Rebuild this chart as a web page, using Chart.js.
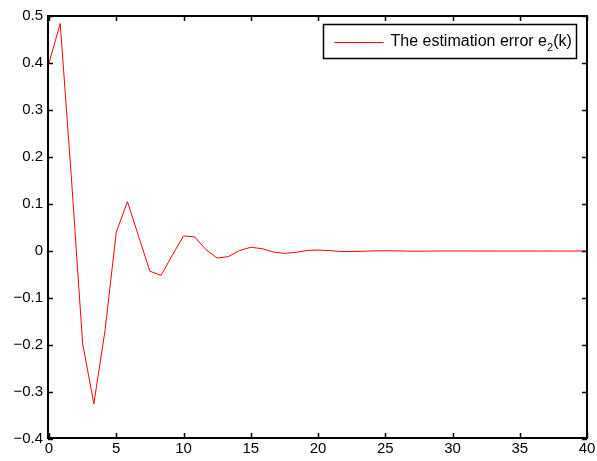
<!DOCTYPE html>
<html>
<head>
<meta charset="utf-8">
<script src="https://cdn.jsdelivr.net/npm/chart.js@4.4.0/dist/chart.umd.min.js"></script>
<style>
  html, body { margin: 0; padding: 0; background: #fff; }
</style>
</head>
<body>
<canvas id="chart" width="597" height="461"></canvas>
<script>
// sample instants k*T (T = 5/6)
const sampleTimes = [
  0, 0.833, 1.667, 2.5, 3.333, 4.167, 5, 5.833, 6.667, 7.5,
  8.333, 9.167, 10, 10.833, 11.667, 12.5, 13.333, 14.167, 15, 15.833,
  16.667, 17.5, 18.333, 19.167, 20, 20.833, 21.667, 22.5, 23.333, 24.167,
  25, 25.833, 26.667, 27.5, 28.333, 29.167, 30, 30.833, 31.667, 32.5,
  33.333, 34.167, 35, 35.833, 36.667, 37.5, 38.333, 39.167, 40
];
// estimation error e2(k)
const errorValues = [
  0.400, 0.484, 0.155, -0.197, -0.325, -0.169, 0.040, 0.105, 0.031, -0.043,
  -0.052, -0.009, 0.032, 0.030, 0.003, -0.015, -0.012, 0.001, 0.008, 0.005,
  -0.002, -0.005, -0.003, 0.001, 0.002, 0.001, -0.001, -0.001, -0.0005, 0.0003,
  0.0006, 0.0003, -0.0002, -0.0003, -0.0001, 0.0001, 0.0001, 0.0001, 0, 0,
  0, 0, 0, 0, 0, 0, 0, 0, 0
];
const xTicks = [0, 5, 10, 15, 20, 25, 30, 35, 40];
const yTicks = [-0.4, -0.3, -0.2, -0.1, 0, 0.1, 0.2, 0.3, 0.4, 0.5];
const seriesLabel = "The estimation error e";
const seriesSub = "2";
const seriesTail = "(k)";

const FONT = "Liberation Sans, Arial, Helvetica, sans-serif";

// MATLAB-like box with inward ticks + legend
const boxPlugin = {
  id: "box",
  afterDatasetsDraw(chart) {
    const { ctx, chartArea: a, scales } = chart;
    const x = scales.x, y = scales.y;
    const L = Math.round(a.left) - 1, R = Math.round(a.right);
    const T = Math.round(a.top), B = Math.round(a.bottom) - 1;
    const tl = 5;
    ctx.save();
    ctx.strokeStyle = "#000";
    ctx.lineWidth = 1.5;
    ctx.beginPath();
    xTicks.forEach(v => {
      const px = Math.round(x.getPixelForValue(v)) + 0.5;
      ctx.moveTo(px, B); ctx.lineTo(px, B - tl);
      ctx.moveTo(px, T); ctx.lineTo(px, T + tl);
    });
    yTicks.forEach(v => {
      const py = Math.round(y.getPixelForValue(v)) + 0.5;
      ctx.moveTo(L, py); ctx.lineTo(L + tl, py);
      ctx.moveTo(R, py); ctx.lineTo(R - tl, py);
    });
    ctx.stroke();
    ctx.lineWidth = 2;
    ctx.strokeRect(L, T, R - L, B - T);

    // legend
    const big = "16px " + FONT, small = "11px " + FONT;
    ctx.font = big;
    const w1 = ctx.measureText(seriesLabel).width;
    const w3 = ctx.measureText(seriesTail).width;
    ctx.font = small;
    const w2 = ctx.measureText(seriesSub).width;
    const textW = w1 + w2 + w3;
    const boxR = Math.round(a.right - 11) + 0.5;
    const boxL = Math.round(boxR - (11 + 49 + 7 + textW + 5)) + 0.5;
    const boxT = Math.round(a.top + 8) + 0.5;
    const boxB = boxT + 34;
    ctx.lineWidth = 1.5;
    ctx.fillStyle = "#fff";
    ctx.fillRect(boxL, boxT, boxR - boxL, boxB - boxT);
    ctx.strokeRect(boxL, boxT, boxR - boxL, boxB - boxT);
    const midY = boxT + 17;
    ctx.lineWidth = 1;
    ctx.strokeStyle = "#ff0000";
    ctx.beginPath();
    ctx.moveTo(boxL + 11, Math.round(midY) + 0.5);
    ctx.lineTo(boxL + 60, Math.round(midY) + 0.5);
    ctx.stroke();
    ctx.fillStyle = "#000";
    ctx.textBaseline = "alphabetic";
    ctx.textAlign = "left";
    let tx = boxL + 67;
    const base = midY + 4;
    ctx.font = big;
    ctx.fillText(seriesLabel, tx, base);
    tx += w1;
    ctx.font = small;
    ctx.fillText(seriesSub, tx, base + 5);
    tx += w2;
    ctx.font = big;
    ctx.fillText(seriesTail, tx, base);
    ctx.restore();
  }
};

function fmtY(v) {
  if (Math.abs(v) < 1e-9) return "0";
  return (v < 0 ? "\u2212" : "") + Math.abs(v).toFixed(1);
}

new Chart(document.getElementById("chart"), {
  type: "line",
  data: {
    datasets: [{
      label: seriesLabel + seriesSub + seriesTail,
      data: sampleTimes.map((t, i) => ({ x: t, y: errorValues[i] })),
      borderColor: "#ff0000",
      borderWidth: 1,
      pointRadius: 0,
      tension: 0,
      fill: false
    }]
  },
  options: {
    responsive: false,
    animation: false,
    layout: { padding: { top: 16, right: 10, left: 0, bottom: 0 } },
    plugins: { legend: { display: false }, tooltip: { enabled: false } },
    scales: {
      x: {
        type: "linear",
        min: 0,
        max: 40,
        afterBuildTicks: s => { s.ticks = xTicks.map(v => ({ value: v })); },
        ticks: { color: "#000", font: { family: FONT, size: 15 }, padding: 1, maxRotation: 0,
                 callback: v => String(v) },
        grid: { display: false, drawTicks: false },
        border: { display: false },
        afterFit: s => { s.height = 22; }
      },
      y: {
        type: "linear",
        min: -0.4,
        max: 0.5,
        afterBuildTicks: s => { s.ticks = yTicks.map(v => ({ value: v })); },
        ticks: { color: "#000", font: { family: FONT, size: 15 }, padding: 6,
                 callback: v => fmtY(v) },
        grid: { display: false, drawTicks: false },
        border: { display: false },
        afterFit: s => { s.width = 49; }
      }
    }
  },
  plugins: [boxPlugin]
});
</script>
</body>
</html>
